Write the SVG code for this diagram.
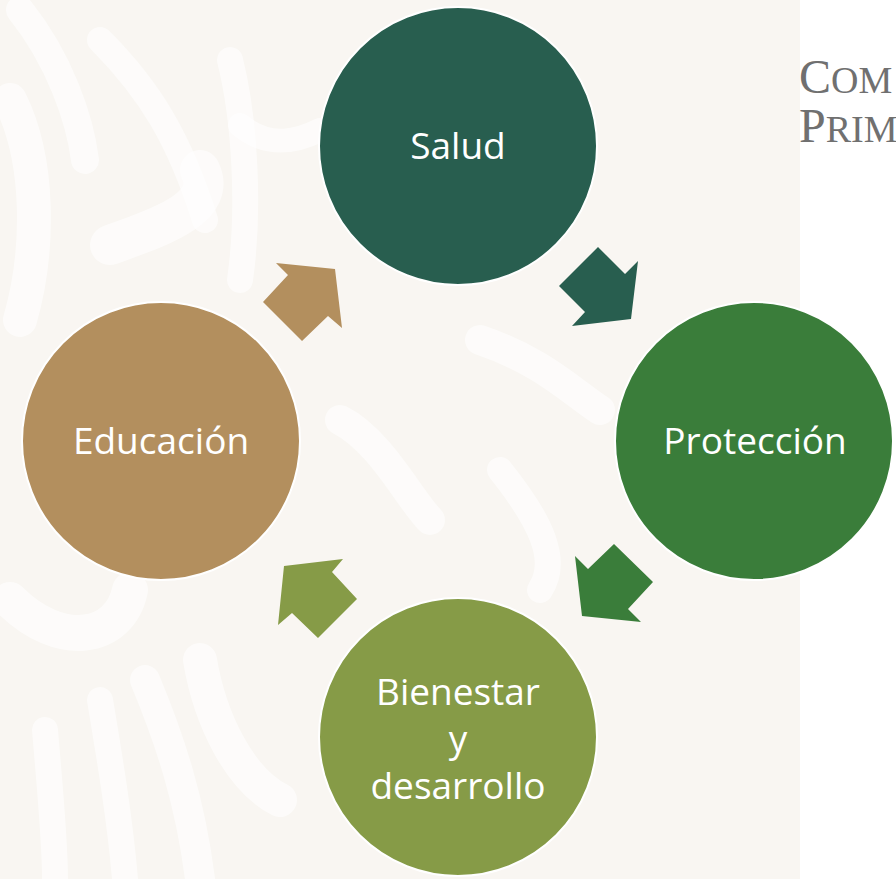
<svg xmlns="http://www.w3.org/2000/svg" width="896" height="879" viewBox="0 0 896 879">
<style>
.node circle{stroke:#ffffff;stroke-width:2}
.lbl{font-family:"Open Sans","Noto Sans","Liberation Sans",sans-serif;font-size:37px;fill:#ffffff;text-anchor:middle}
.pat{fill:none;stroke:#ffffff;stroke-linecap:round;opacity:0.6}
.hdr{font-family:"Liberation Serif","DejaVu Serif",serif;fill:#707070}
</style>
<rect x="0" y="0" width="896" height="879" fill="#ffffff"/>
<rect x="0" y="0" width="800" height="879" fill="#f9f6f2"/>
<g id="pattern">
<path class="pat" stroke-width="28" d="M20 10 C60 60 80 120 85 160"/>
<path class="pat" stroke-width="26" d="M100 40 C150 90 180 140 205 220"/>
<path class="pat" stroke-width="34" d="M10 100 C40 160 40 250 20 320"/>
<path class="pat" stroke-width="40" d="M200 170 C220 210 150 230 110 245"/>
<path class="pat" stroke-width="26" d="M230 60 C245 120 250 210 240 280"/>
<path class="pat" stroke-width="24" d="M240 125 C270 150 300 140 320 130"/>
<path class="pat" stroke-width="36" d="M10 600 C60 650 120 640 130 590"/>
<path class="pat" stroke-width="26" d="M45 730 C50 790 55 840 55 879"/>
<path class="pat" stroke-width="26" d="M100 700 C110 760 120 820 125 879"/>
<path class="pat" stroke-width="30" d="M145 680 C170 740 190 800 200 879"/>
<path class="pat" stroke-width="34" d="M200 660 C210 720 240 780 280 800"/>
<path class="pat" stroke-width="30" d="M340 420 C380 440 410 500 430 520"/>
<path class="pat" stroke-width="30" d="M480 340 C540 360 570 390 600 410"/>
<path class="pat" stroke-width="26" d="M500 470 C540 520 560 560 540 590"/>
</g>
<g id="header">
<text class="hdr" x="799" y="93"><tspan font-size="48">C</tspan><tspan font-size="38">OM</tspan></text>
<text class="hdr" x="799" y="142"><tspan font-size="48">P</tspan><tspan font-size="38">RIM</tspan></text>
</g>
<g id="connectors">
<polygon id="arrow-salud-proteccion" fill="#285e4f" points="598,247 625,274 638,261 631,319 572,326 585,312 559,286"/>
<polygon id="arrow-proteccion-bienestar" fill="#3a7d3a" points="614,544 653,582 628,609 641,622 582,616 575,556 588,569"/>
<polygon id="arrow-bienestar-educacion" fill="#869b47" points="343,559 332,572 357,599 318,638 292,613 278,625 284,566"/>
<polygon id="arrow-educacion-salud" fill="#b38f5e" points="276,263 335,269 342,328 328,316 302,341 263,302 288,275"/>
</g>
<g id="node-salud" class="node">
<circle cx="458" cy="146" r="139" fill="#285e4f"/>
<text class="lbl" x="458" y="159">Salud</text>
</g>
<g id="node-proteccion" class="node">
<circle cx="754" cy="441" r="139" fill="#3a7d3a"/>
<text class="lbl" x="755" y="454">Protección</text>
</g>
<g id="node-bienestar" class="node">
<circle cx="458" cy="737" r="139" fill="#869b47"/>
<text class="lbl" x="458" y="705">Bienestar</text>
<text class="lbl" x="458" y="752">y</text>
<text class="lbl" x="458" y="799">desarrollo</text>
</g>
<g id="node-educacion" class="node">
<circle cx="161" cy="441" r="139" fill="#b38f5e"/>
<text class="lbl" x="161" y="454">Educación</text>
</g>
</svg>
